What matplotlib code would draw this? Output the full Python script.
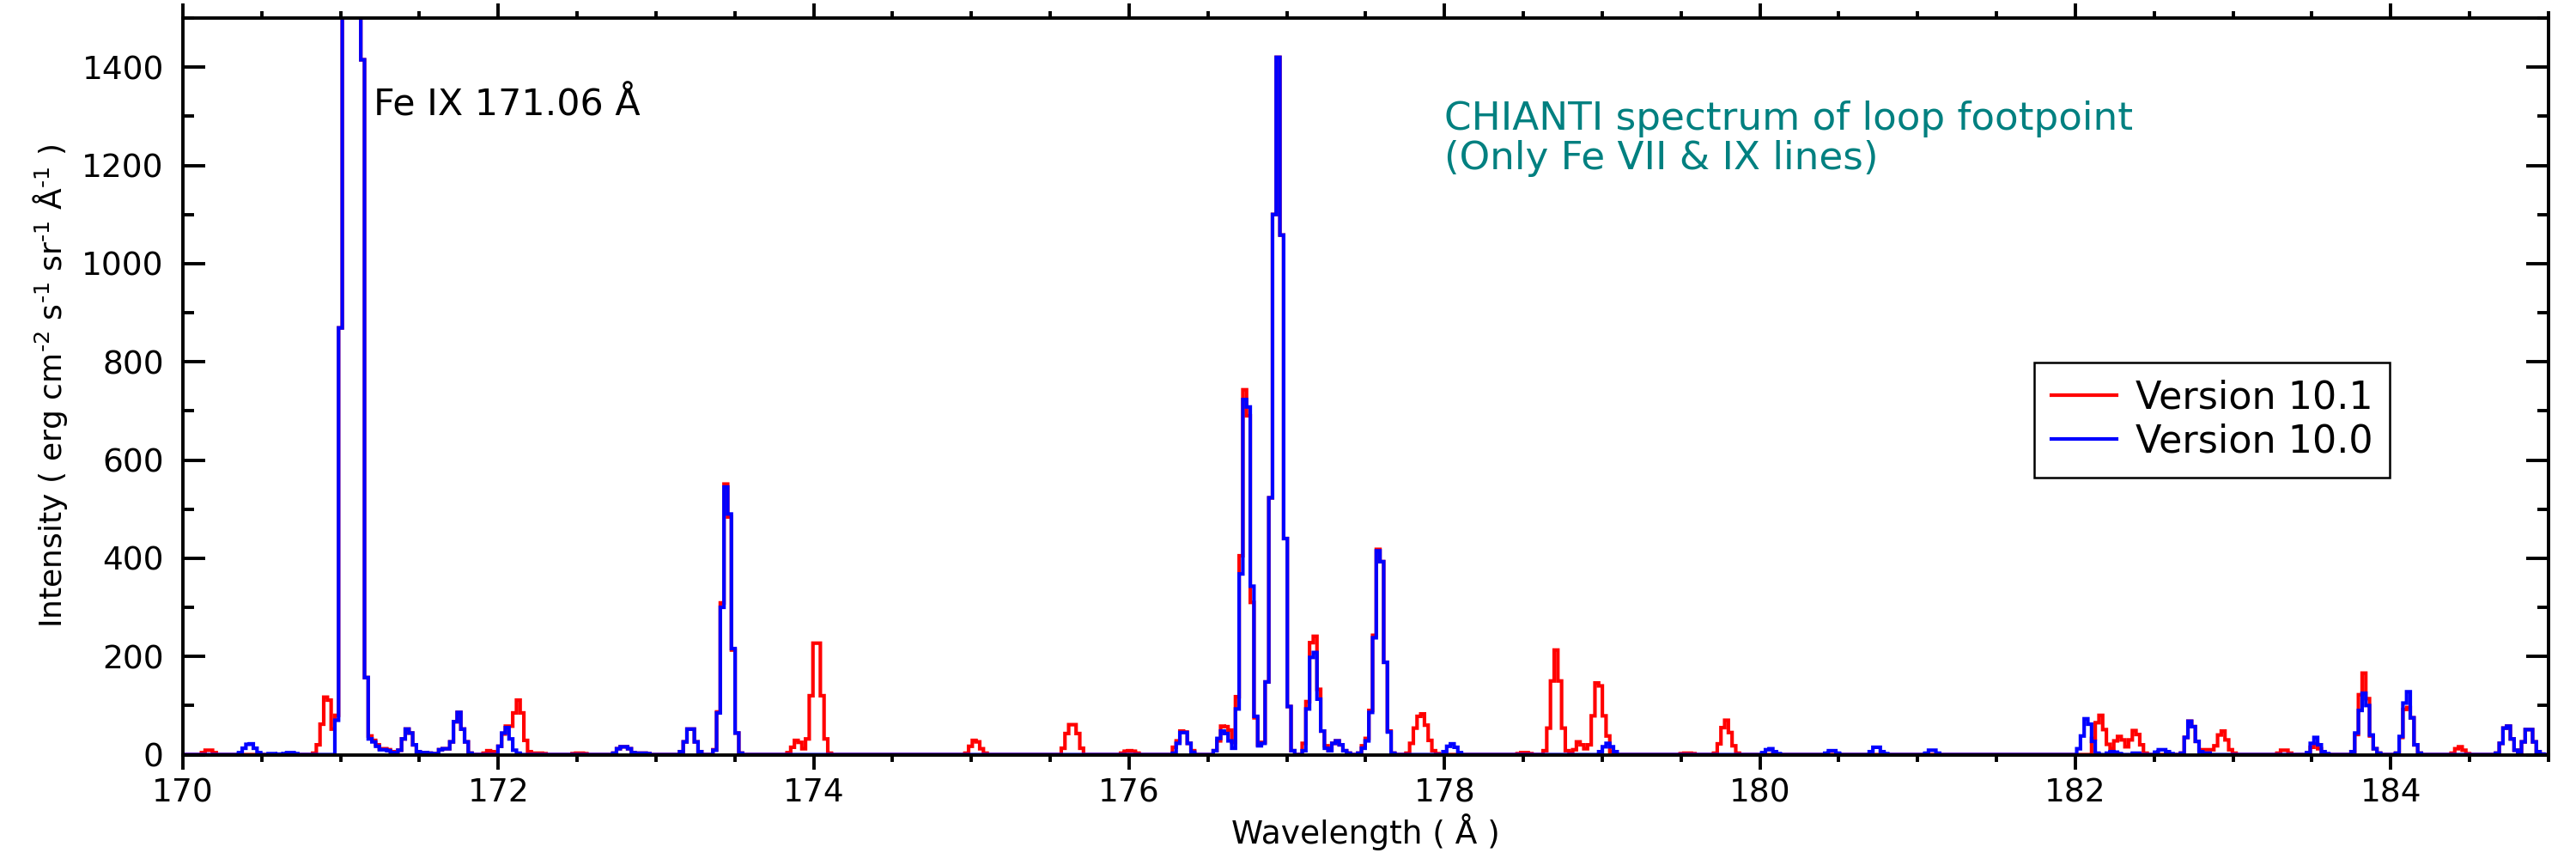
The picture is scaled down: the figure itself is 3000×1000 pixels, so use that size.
import numpy as np
import matplotlib
matplotlib.use('Agg')
import matplotlib.pyplot as plt
from matplotlib.ticker import MultipleLocator

# bin width of the synthetic spectrum (Angstrom)
DW = 0.0235
WMIN, WMAX = 170.0, 185.0

# each entry: (start wavelength of first bin, intensities of consecutive bins)
# values above 1500 are off the plot range
red_lines = [
	(170.123, [4, 9, 9, 4]),
	(170.815, [3, 20, 62, 117, 111, 52, 80, 869, 3000, 6000, 8000, 6000, 3000, 1415, 157, 38, 29, 20, 12, 12, 10, 6, 2]),
	(171.365, [9, 32, 52, 44, 20, 6, 4, 4, 3, 2]),
	(171.606, [2, 10, 12, 12, 26, 67, 86, 52, 26, 3]),
	(171.906, [3, 8, 6, 4]),
	(172.005, [17, 42, 58, 58, 85, 111, 85, 29, 6, 3, 3, 3, 2]),
	(172.470, [2, 3, 3, 2]),
	(172.730, [3, 12, 16, 16, 12, 4, 1, 3, 3, 2]),
	(173.147, [6, 26, 52, 52, 26, 6]),
	(173.356, [10, 87, 309, 551, 484, 213, 44, 3]),
	(173.837, [4, 15, 29, 25, 12, 32, 120, 227, 227, 120, 32, 3]),
	(174.962, [3, 17, 29, 26, 12, 3]),
	(175.573, [13, 43, 61, 61, 43, 13]),
	(175.936, [3, 7, 8, 7, 3]),
	(176.267, [15, 28, 48, 46, 23, 8]),
	(176.526, [8, 28, 58, 57, 50, 25, 118, 405, 743, 690, 310, 75, 20, 25, 148, 523, 1100, 1420, 1058, 440, 98, 8]),
	(177.094, [23, 108, 228, 241, 133, 48, 18, 8, 23, 28, 20, 8, 3]),
	(177.452, [3, 18, 33, 90, 243, 418, 393, 188, 48, 3]),
	(177.760, [3, 23, 54, 78, 83, 60, 29, 8, 2]),
	(178.450, [2, 4, 4, 2]),
	(178.613, [8, 54, 150, 213, 150, 54, 8, 3, 10, 26, 20, 12, 20, 79, 146, 140, 79, 38, 6]),
	(179.494, [2, 3, 3, 2]),
	(179.702, [3, 22, 55, 70, 45, 18, 3]),
	(182.110, [33, 65, 80, 51, 21, 12, 28, 37, 30, 16, 30, 49, 41, 20, 3]),
	(182.672, [3, 35, 68, 57, 27, 10, 10, 10, 10, 18, 40, 48, 30, 10, 3]),
	(183.278, [3, 9, 9, 3]),
	(183.468, [3, 15, 22, 12, 3, 1]),
	(183.740, [6, 41, 122, 166, 114, 38, 12, 3]),
	(184.031, [3, 35, 92, 96, 75, 20, 3]),
	(184.385, [3, 12, 16, 9, 2]),
	(184.675, [3, 23, 54, 58, 32, 9, 4, 26, 51, 51, 26, 6, 1]),
]

blue_lines = [
	(170.354, [4, 13, 21, 22, 13, 4]),
	(170.535, [2, 2, 1, 1, 2, 4, 4, 2]),
	(170.815, [0, 0, 0, 0, 0, 0, 70, 869, 3000, 6000, 8000, 6000, 3000, 1415, 157, 32, 26, 17, 10, 10, 8, 4, 1]),
	(171.365, [9, 32, 52, 44, 20, 6, 4, 4, 3, 2]),
	(171.606, [2, 10, 12, 12, 26, 67, 86, 52, 26, 3]),
	(172.005, [17, 44, 55, 32, 9, 3]),
	(172.730, [3, 12, 16, 16, 12, 4, 1, 3, 3, 2]),
	(173.147, [6, 26, 52, 52, 26, 6]),
	(173.356, [9, 85, 300, 545, 490, 216, 44, 3]),
	(176.267, [3, 23, 45, 45, 23, 5]),
	(176.526, [8, 33, 48, 43, 28, 13, 93, 368, 723, 708, 343, 78, 18, 23, 148, 523, 1100, 1420, 1058, 440, 98, 8]),
	(177.094, [8, 93, 198, 208, 113, 48, 13, 8, 23, 28, 20, 8, 3]),
	(177.452, [3, 13, 28, 86, 238, 415, 393, 188, 46, 3]),
	(177.987, [6, 17, 22, 15, 4]),
	(178.967, [6, 16, 23, 16, 6]),
	(180.011, [4, 10, 12, 6, 2]),
	(180.422, [3, 8, 8, 3]),
	(180.703, [6, 15, 15, 6, 2]),
	(181.052, [3, 9, 9, 3]),
	(182.001, [12, 38, 73, 62, 27, 3]),
	(182.190, [3, 6, 5, 2]),
	(182.360, [3, 3]),
	(182.500, [5, 10, 10, 6, 2]),
	(182.672, [3, 35, 68, 57, 27, 6, 3, 3]),
	(183.468, [4, 23, 35, 20, 6, 2]),
	(183.740, [6, 44, 90, 125, 100, 40, 12, 3]),
	(184.031, [3, 37, 105, 128, 75, 20, 3]),
	(184.675, [3, 23, 54, 58, 32, 9, 4, 26, 51, 51, 26, 6, 1]),
]

nbins = int(np.ceil((WMAX - WMIN) / DW)) + 1
edges = WMIN + DW * np.arange(nbins + 1)


def build_spectrum(lines):
	spec = np.zeros(nbins)
	for start, vals in lines:
		i0 = int(round((start - WMIN) / DW))
		spec[i0:i0 + len(vals)] += np.array(vals, dtype=float)
	return spec


red = build_spectrum(red_lines)
blue = build_spectrum(blue_lines)

fig = plt.figure(figsize=(15, 5), dpi=200)
ax = fig.add_axes([213/3000, 1-878.5/1000, (2968-213)/3000, (878.5-21)/1000])

ax.stairs(red, edges, color='red', lw=1.5, label='Version 10.1')
ax.stairs(blue, edges, color='blue', lw=1.5, label='Version 10.0')

ax.set_xlim(WMIN, WMAX)
ax.set_ylim(0, 1500)
ax.xaxis.set_major_locator(MultipleLocator(2))
ax.xaxis.set_minor_locator(MultipleLocator(0.5))
ax.yaxis.set_major_locator(MultipleLocator(200))
ax.yaxis.set_minor_locator(MultipleLocator(100))

for s in ax.spines.values():
	s.set_linewidth(1.4)
ax.tick_params(axis='x', which='both', direction='out', top=True, bottom=True, width=1.4, labelsize=13.5, pad=3.5)
ax.tick_params(axis='x', which='major', length=6.2)
ax.tick_params(axis='x', which='minor', length=3)
ax.tick_params(axis='y', which='both', direction='in', left=True, right=True, width=1.4, labelsize=13.5, pad=8)
ax.tick_params(axis='y', which='major', length=9.5)
ax.tick_params(axis='y', which='minor', length=4.6)

ax.set_xlabel('Wavelength ( Å )', fontsize=13.5, labelpad=2)
ax.set_ylabel(r'Intensity ( erg cm$^{\text{-2}}$ s$^{\text{-1}}$ sr$^{\text{-1}}$ Å$^{\text{-1}}$ )', fontsize=13, labelpad=5)

ax.text(171.21, 1301, 'Fe IX 171.06 Å', fontsize=15.4, ha='left', va='baseline')
ax.text(178.0, 1273, 'CHIANTI spectrum of loop footpoint', fontsize=16.3, color='#008080', ha='left', va='baseline')
ax.text(178.0, 1192, '(Only Fe VII & IX lines)', fontsize=16.3, color='#008080', ha='left', va='baseline')

leg = ax.legend(loc='upper left', bbox_to_anchor=(0.7826, 0.5327), borderaxespad=0,
	fontsize=16, handlelength=1.7, handletextpad=0.5, borderpad=0.45, labelspacing=0.18,
	fancybox=False, framealpha=1)
leg.get_frame().set_edgecolor('black')
leg.get_frame().set_linewidth(0.9)

fig.savefig('out.png', dpi=200)
